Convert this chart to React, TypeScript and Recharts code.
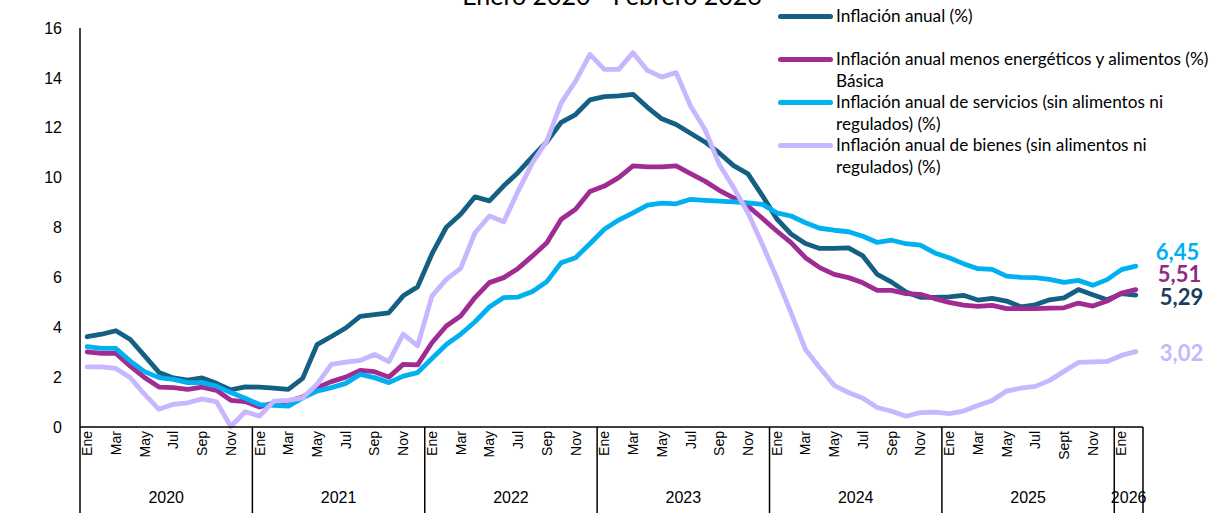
import React from 'react';
import { LineChart, Line, XAxis, YAxis, Legend } from 'recharts';

// ---------- categories ----------
const years = [2020, 2021, 2022, 2023, 2024, 2025, 2026];
const monthNames = ['Ene', 'Feb', 'Mar', 'Abr', 'May', 'Jun', 'Jul', 'Ago', 'Sep', 'Oct', 'Nov', 'Dic'];
const shownMonths = ['Ene', 'Mar', 'May', 'Jul', 'Sep', 'Nov'];
const tickLabelOverrides: Record<string, string> = { 'Sep 2025': 'Sept' };
const monthsInLastYear = 2;

const categories: string[] = [];
years.forEach((yr, yi) => {
  const n = yi === years.length - 1 ? monthsInLastYear : 12;
  for (let m = 0; m < n; m++) categories.push(`${monthNames[m]} ${yr}`);
});

// ---------- series values (%) ----------
const inflacionAnual = [
  3.62, 3.72, 3.86, 3.51, 2.85, 2.19, 1.97, 1.88, 1.97, 1.75, 1.49, 1.61,
  1.60, 1.56, 1.51, 1.95, 3.30, 3.63, 3.97, 4.44, 4.51, 4.58, 5.26, 5.62,
  6.94, 8.01, 8.53, 9.23, 9.07, 9.67, 10.21, 10.84, 11.44, 12.22, 12.53, 13.12,
  13.25, 13.28, 13.34, 12.82, 12.36, 12.13, 11.78, 11.43, 10.99, 10.48, 10.15, 9.28,
  8.35, 7.74, 7.36, 7.16, 7.16, 7.18, 6.86, 6.12, 5.81, 5.41, 5.20, 5.20,
  5.22, 5.28, 5.09, 5.16, 5.05, 4.82, 4.90, 5.10, 5.18, 5.51, 5.30, 5.10,
  5.35, 5.29,
];

const inflacionBasica = [
  3.01, 2.95, 2.95, 2.44, 1.98, 1.60, 1.58, 1.51, 1.60, 1.47, 1.07, 1.02,
  0.80, 0.97, 1.04, 1.20, 1.58, 1.82, 2.00, 2.27, 2.22, 2.00, 2.51, 2.49,
  3.38, 4.05, 4.45, 5.19, 5.79, 5.99, 6.36, 6.86, 7.39, 8.33, 8.73, 9.44,
  9.66, 10.00, 10.47, 10.43, 10.43, 10.47, 10.16, 9.86, 9.49, 9.19, 8.86, 8.37,
  7.86, 7.39, 6.79, 6.39, 6.12, 5.99, 5.78, 5.48, 5.48, 5.35, 5.32, 5.15,
  5.00, 4.89, 4.84, 4.88, 4.75, 4.75, 4.75, 4.77, 4.78, 4.97, 4.85, 5.05,
  5.37, 5.51,
];

const inflacionServicios = [
  3.22, 3.15, 3.15, 2.64, 2.22, 1.98, 1.91, 1.78, 1.78, 1.64, 1.38, 1.15,
  0.90, 0.87, 0.84, 1.17, 1.44, 1.58, 1.75, 2.11, 1.98, 1.78, 2.04, 2.18,
  2.75, 3.31, 3.72, 4.22, 4.81, 5.19, 5.21, 5.43, 5.83, 6.59, 6.79, 7.35,
  7.93, 8.30, 8.59, 8.90, 8.98, 8.95, 9.13, 9.09, 9.06, 9.03, 8.99, 8.93,
  8.59, 8.46, 8.19, 7.97, 7.89, 7.83, 7.65, 7.40, 7.49, 7.35, 7.29, 6.98,
  6.79, 6.55, 6.35, 6.32, 6.05, 6.00, 5.99, 5.92, 5.80, 5.88, 5.68, 5.91,
  6.31, 6.45,
];

const inflacionBienes = [
  2.41, 2.41, 2.35, 1.98, 1.31, 0.71, 0.91, 0.97, 1.13, 1.01, 0.02, 0.61,
  0.44, 1.04, 1.07, 1.17, 1.71, 2.51, 2.60, 2.67, 2.91, 2.62, 3.72, 3.25,
  5.25, 5.92, 6.36, 7.79, 8.46, 8.23, 9.46, 10.60, 11.47, 13.00, 13.87, 14.94,
  14.34, 14.34, 15.01, 14.30, 14.03, 14.21, 12.87, 11.94, 10.53, 9.60, 8.59, 7.32,
  5.99, 4.58, 3.11, 2.38, 1.67, 1.38, 1.15, 0.78, 0.63, 0.43, 0.58, 0.60,
  0.54, 0.64, 0.86, 1.06, 1.44, 1.56, 1.63, 1.87, 2.23, 2.59, 2.61, 2.63,
  2.87, 3.02,
];

const yTicks = [0, 2, 4, 6, 8, 10, 12, 14, 16];

const titleText = 'Enero 2020 - Febrero 2026';
const yAxisTitle = 'Variación (%)';

const series = [
  { key: 'anual', name: 'Inflación anual (%)', values: inflacionAnual, color: '#156082', labelColor: '#1B3D5E', legend: ['Inflación anual (%)', ''], ldx: 24, ldy: 1.6 },
  { key: 'basica', name: 'Inflación anual menos energéticos y alimentos (%) Básica', values: inflacionBasica, color: '#A02B93', labelColor: '#902A80', legend: ['Inflación anual menos energéticos y alimentos (%)', 'Básica'], ldx: 22, ldy: -15.6 },
  { key: 'servicios', name: 'Inflación anual de servicios (sin alimentos ni regulados) (%)', values: inflacionServicios, color: '#00B0F0', labelColor: '#00B0F0', legend: ['Inflación anual de servicios (sin alimentos ni', 'regulados) (%)'], ldx: 20, ldy: -14.4 },
  { key: 'bienes', name: 'Inflación anual de bienes (sin alimentos ni regulados) (%)', values: inflacionBienes, color: '#C8B6FF', labelColor: '#C8B6FF', legend: ['Inflación anual de bienes (sin alimentos ni', 'regulados) (%)'], ldx: 24, ldy: 1 },
];

const data = categories.map((c, i) => {
  const row: Record<string, any> = { periodo: c };
  series.forEach((s) => { row[s.key] = s.values[i]; });
  return row;
});

// ---------- layout ----------
const W = 1220;
const H = 513;
const PLOT_LEFT = 80;
const PLOT_RIGHT = 1143;
const PLOT_TOP = 28;
const AXIS_Y = 427;
const BAND = (PLOT_RIGHT - PLOT_LEFT) / categories.length;
const TICK_FONT = '"Liberation Sans", Arial, sans-serif';
const TEXT_FONT = 'Lato, "Noto Sans", sans-serif';

function MonthTick(props: any) {
  const { x, y, payload } = props;
  const i: number = payload?.index ?? props.index;
  const cat = categories[i];
  if (!cat) return <g />;
  const [mon, yr] = cat.split(' ');
  const mi = monthNames.indexOf(mon);
  const yi = years.indexOf(Number(yr));
  const nInYear = yi === years.length - 1 ? monthsInLastYear : 12;
  const els: React.ReactNode[] = [];
  if (shownMonths.includes(mon)) {
    els.push(
      <text key="m" transform={`translate(${x},${y + 4}) rotate(-90)`} textAnchor="end" dominantBaseline="central"
        fontSize={14} fontFamily={TICK_FONT} fill="#000">
        {tickLabelOverrides[cat] ?? mon}
      </text>
    );
  }
  if (mi === 0) {
    els.push(<line key="s" x1={x - BAND / 2} x2={x - BAND / 2} y1={y} y2={H} stroke="#000" strokeWidth={1.5} />);
  }
  if (i === categories.length - 1) {
    els.push(<line key="e" x1={x + BAND / 2} x2={x + BAND / 2} y1={y} y2={H} stroke="#000" strokeWidth={1.5} />);
  }
  if (mi === Math.floor(nInYear / 2)) {
    els.push(
      <text key="y" x={x - BAND / 2} y={497} textAnchor="middle" dominantBaseline="central"
        fontSize={16} fontFamily={TICK_FONT} fill="#000">
        {yr}
      </text>
    );
  }
  return <g>{els}</g>;
}

function makeEndLabel(color: string, dx: number, dy: number) {
  return (p: any) => {
    if (p.index !== categories.length - 1 || p.value == null) return <g />;
    return (
      <text x={p.x + dx} y={p.y + dy} textAnchor="start" dominantBaseline="central" fill={color}
        fontSize={22} fontWeight={700} fontFamily={TEXT_FONT}>
        {Number(p.value).toFixed(2).replace('.', ',')}
      </text>
    );
  };
}

function LegendContent() {
  return (
    <div style={{ position: 'relative', fontFamily: TEXT_FONT, fontSize: 17.2, color: '#000' }}>
      {series.map((s) => (
        <div key={s.key} style={{ position: 'relative', height: 43 }}>
          <div style={{ position: 'absolute', left: 0, top: 10.75 - 2.5, width: 55, height: 5, borderRadius: 2.5, background: s.color }} />
          <div style={{ position: 'absolute', left: 58, top: 0, lineHeight: '21.5px', whiteSpace: 'pre' }}>
            {s.legend[0]}
            {'\n'}
            {s.legend[1]}
          </div>
        </div>
      ))}
    </div>
  );
}

export default function App() {
  return (
    <div style={{ position: 'absolute', left: 0, top: 0, width: W, height: H, background: '#fff', overflow: 'hidden' }}>
      <LineChart width={W} height={H} data={data} margin={{ top: PLOT_TOP, right: W - PLOT_RIGHT, bottom: 0, left: 20 }}>
        <XAxis dataKey="periodo" interval={0} tickLine={false} tickSize={0} tickMargin={0} height={H - AXIS_Y}
          padding={{ left: BAND / 2, right: BAND / 2 }}
          axisLine={{ stroke: '#000', strokeWidth: 1.5 }} tick={<MonthTick />} />
        <YAxis domain={[0, 16]} ticks={yTicks} width={60} tickLine={false} tickSize={0} tickMargin={18}
          axisLine={{ stroke: '#000', strokeWidth: 1.5 }}
          tick={{ fontSize: 16, fontFamily: TICK_FONT, fill: '#000' }}
          label={{ value: yAxisTitle, angle: -90, position: 'insideLeft', dx: -53, dy: 0, style: { textAnchor: 'middle', fontSize: 21, fontFamily: TEXT_FONT, fill: '#000' } }} />
        <Legend verticalAlign="middle" align="center" layout="horizontal" content={<LegendContent />}
          wrapperStyle={{ top: 5.25, left: 778, width: 442, height: 172 }} />
        {series.map((s) => (
          <Line key={s.key} type="linear" dataKey={s.key} name={s.name} stroke={s.color} strokeWidth={4.8}
            strokeLinejoin="round" strokeLinecap="round" dot={false} activeDot={false} isAnimationActive={false}
            label={makeEndLabel(s.labelColor, s.ldx, s.ldy)} />
        ))}
        <text x={612} y={5} textAnchor="middle" fontSize={25} fontFamily={TEXT_FONT} fill="#000">{titleText}</text>
      </LineChart>
    </div>
  );
}
